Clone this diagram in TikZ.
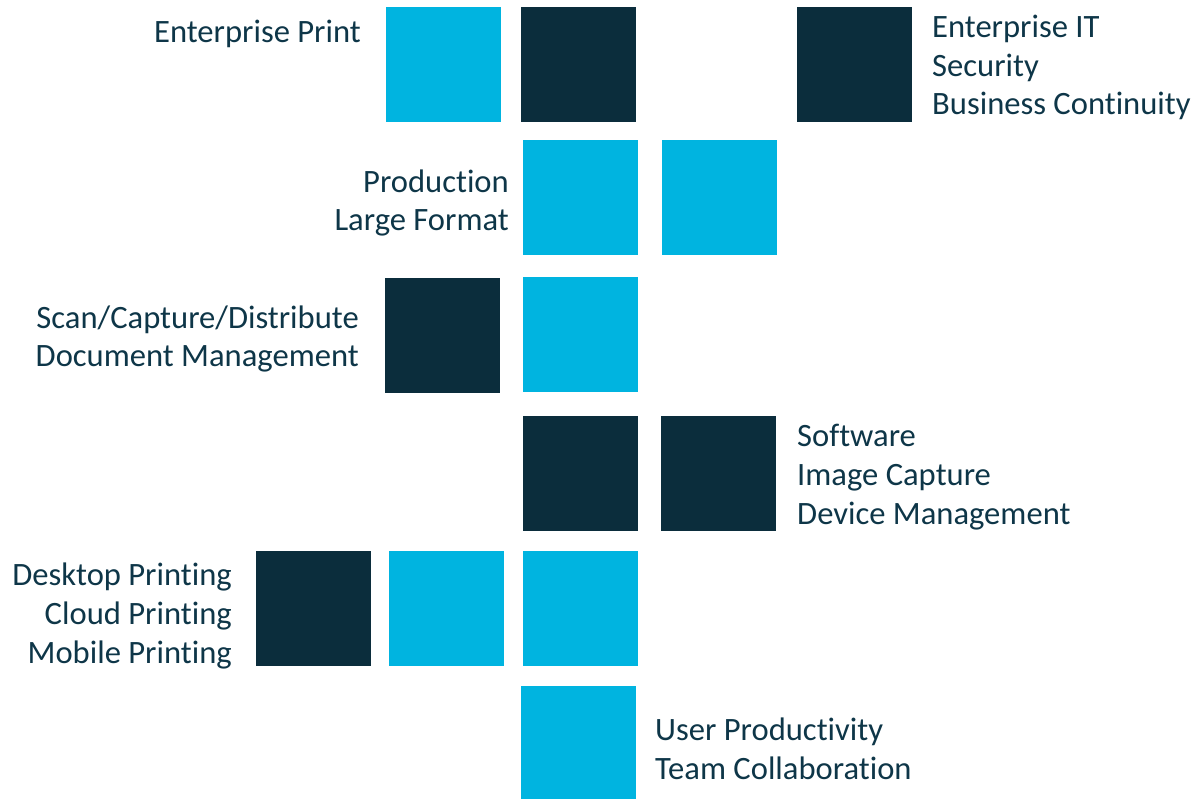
\documentclass[tikz,border=0pt]{standalone}
\usepackage{fontspec}
\setmainfont{Carlito}[Ligatures={NoCommon}]
\definecolor{cyanbox}{HTML}{00B4E0}
\definecolor{darkbox}{HTML}{0B2D3C}
\definecolor{txt}{HTML}{0E3648}
\begin{document}
\begin{tikzpicture}[x=1pt,y=-1pt,
  sq/.style={minimum width=115pt,minimum height=115pt,inner sep=0pt,outer sep=0pt,anchor=north west},
  lt/.style={sq,fill=cyanbox},
  dk/.style={sq,fill=darkbox},
  lbl/.style={text=txt,inner sep=0pt,font=\fontsize{32.6}{38.8}\selectfont},
  lblr/.style={lbl,align=right,anchor=base east},
  lbll/.style={lbl,align=left,anchor=base west}]
\useasboundingbox (0,0) rectangle (1197,799);
% squares
\node[lt] (s1) at (386,7) {};
\node[dk] (s2) at (521,7) {};
\node[dk] (s3) at (797,7) {};
\node[lt] (s4) at (523,140) {};
\node[lt] (s5) at (662,140) {};
\node[dk] (s6) at (385,278) {};
\node[lt] (s7) at (523,277) {};
\node[dk] (s8) at (523,416) {};
\node[dk] (s9) at (661,416) {};
\node[dk] (s10) at (256,551) {};
\node[lt] (s11) at (389,551) {};
\node[lt] (s12) at (523,551) {};
\node[lt] (s13) at (521,686) {};
% labels (anchored at the baseline of the last line)
\node[lblr] (t1) at (361,43) {Enterprise Print};
\node[lbll] (t2) at (932,115) {Enterprise IT\\Security\\Business Continuity};
\node[lblr] (t3) at (509,231) {Production\\Large Format};
\node[lblr] (t4) at (359,367) {Scan/Capture/Distribute\\Document Management};
\node[lbll] (t5) at (797,524) {Software\\Image Capture\\Device Management};
\node[lblr] (t6) at (232,663) {Desktop Printing\\Cloud Printing\\Mobile Printing};
\node[lbll] (t7) at (655,779) {User Productivity\\Team Collaboration};
\end{tikzpicture}
\end{document}
